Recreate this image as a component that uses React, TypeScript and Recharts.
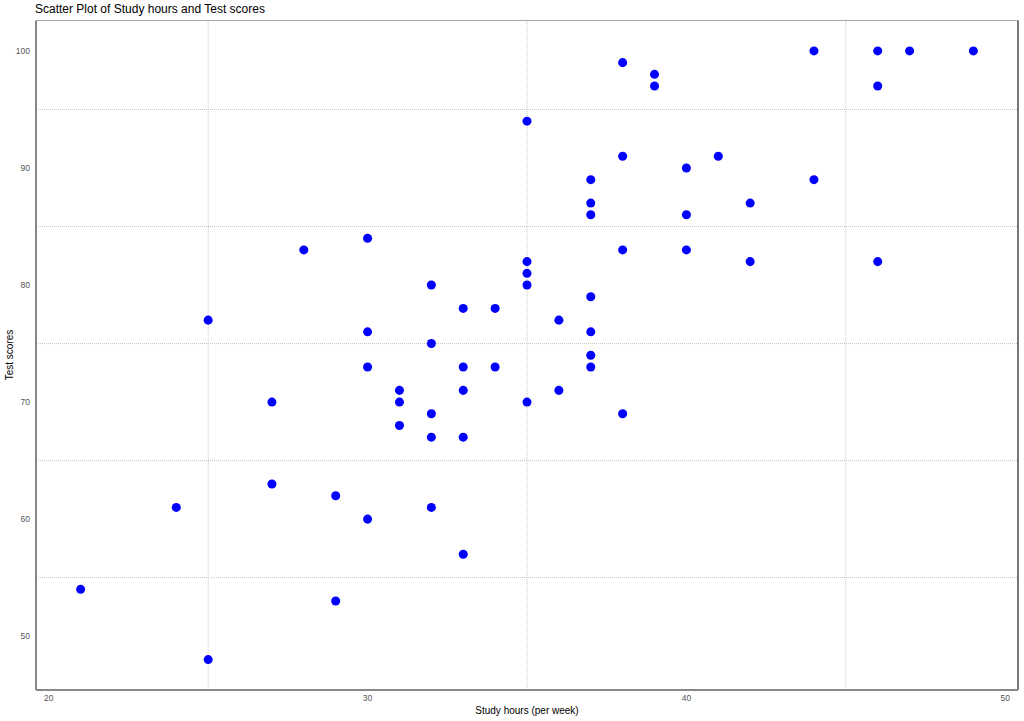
import React from 'react';
import { ScatterChart, Scatter, XAxis, YAxis, ZAxis, ReferenceLine } from 'recharts';

const studyHours = [
  21, 24, 25, 25, 27, 27, 28, 29, 29, 30, 30, 30, 30, 31, 31, 31, 32, 32, 32, 32, 32,
  33, 33, 33, 33, 33, 34, 34, 35, 35, 35, 35, 35, 36, 36, 37, 37, 37, 37, 37, 37, 37,
  38, 38, 38, 38, 39, 39, 40, 40, 40, 41, 42, 42, 44, 44, 46, 46, 46, 47, 49,
];
const testScores = [
  54, 61, 77, 48, 70, 63, 83, 62, 53, 84, 76, 73, 60, 71, 70, 68, 80, 75, 69, 67, 61,
  78, 73, 71, 67, 57, 78, 73, 94, 82, 81, 80, 70, 77, 71, 89, 87, 86, 79, 76, 74, 73,
  99, 91, 83, 69, 98, 97, 90, 86, 83, 91, 87, 82, 100, 89, 100, 97, 82, 100, 100,
];

const xTicks = [20, 30, 40, 50];
const yTicks = [50, 60, 70, 80, 90, 100];
const xGridValues = [25, 35, 45];
const yGridValues = [55, 65, 75, 85, 95];
const xDomain = [19.6, 50.4];
const yDomain = [45.4, 102.6];

const points = studyHours.map((h, i) => ({ hours: h, score: testScores[i] }));

const FONT = '"Liberation Sans", Arial, sans-serif';

export default function App() {
  return (
    <div style={{ position: 'relative', width: 1024, height: 721, fontFamily: FONT, background: '#fff' }}>
      <style>{`body{margin:0;}`}</style>
      <div style={{ position: 'absolute', left: 35, top: 1, fontSize: 12, color: '#000', whiteSpace: 'nowrap', lineHeight: '16px' }}>
        Scatter Plot of Study hours and Test scores
      </div>
      <ScatterChart width={1024} height={721} margin={{ top: 20.5, right: 6, bottom: 0, left: 0 }}>
        <XAxis
          type="number"
          dataKey="hours"
          domain={xDomain}
          ticks={xTicks}
          allowDataOverflow
          height={31}
          tickLine={false}
          tickSize={3}
          tickMargin={2}
          axisLine={{ stroke: '#888', strokeWidth: 2 }}
          tick={{ fontSize: 8.5, fill: '#555', fontFamily: FONT }}
        />
        <YAxis
          type="number"
          dataKey="score"
          domain={yDomain}
          ticks={yTicks}
          allowDataOverflow
          width={36}
          tickLine={false}
          tickSize={4}
          tickMargin={2}
          axisLine={{ stroke: '#888', strokeWidth: 2 }}
          tick={{ fontSize: 8.5, fill: '#555', fontFamily: FONT }}
        />
        <ZAxis range={[38, 38]} />
        {xGridValues.map((v) => (
          <ReferenceLine key={'vx' + v} x={v} stroke="#c4c4c4" strokeDasharray="1 1" strokeWidth={1} />
        ))}
        {yGridValues.map((v) => (
          <ReferenceLine key={'hy' + v} y={v} stroke="#c4c4c4" strokeDasharray="1 1" strokeWidth={1} />
        ))}
        <ReferenceLine y={yDomain[1]} stroke="#aaa" strokeWidth={1} />
        <ReferenceLine x={xDomain[1]} stroke="#777" strokeWidth={2} />
        <Scatter data={points} fill="#0000ff" shape="circle" isAnimationActive={false} />
      </ScatterChart>
      <div style={{ position: 'absolute', left: 0, width: 1054, top: 704, textAlign: 'center', fontSize: 10, color: '#000', lineHeight: '14px' }}>
        Study hours (per week)
      </div>
      <div
        style={{
          position: 'absolute',
          left: 10,
          top: 355,
          fontSize: 10,
          color: '#000',
          whiteSpace: 'nowrap',
          lineHeight: '14px',
          transform: 'translate(-50%, -50%) rotate(-90deg)',
        }}
      >
        Test scores
      </div>
    </div>
  );
}
